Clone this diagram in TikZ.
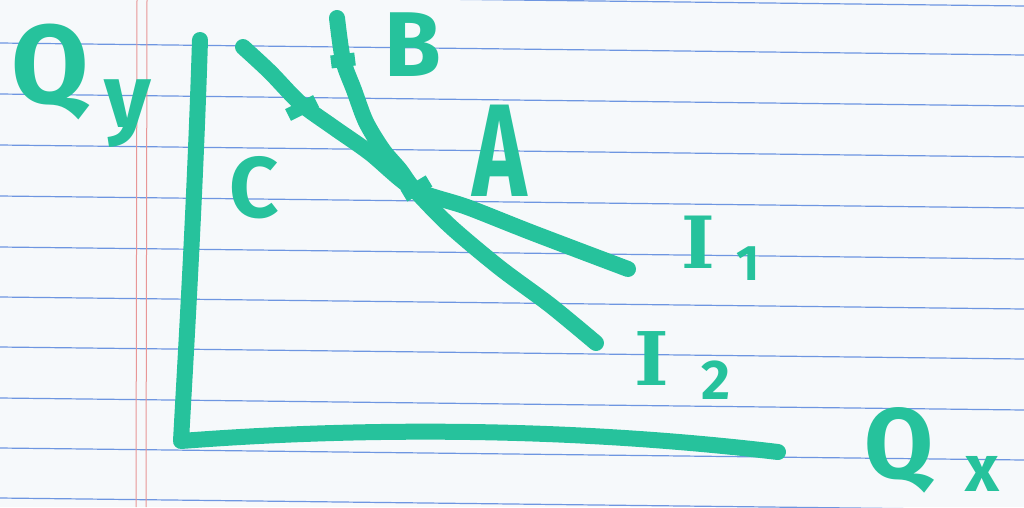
\documentclass[tikz,border=0pt]{standalone}
\usepackage{fontspec}
\setmainfont{Fira Sans}
\newfontfamily\serifb{DejaVu Serif}
\definecolor{mk}{RGB}{38,194,156}
\definecolor{paper}{RGB}{246,249,251}
\definecolor{rule}{RGB}{110,150,225}
\definecolor{marg}{RGB}{232,150,150}
\newcommand{\fs}[1]{\fontsize{#1}{#1}\selectfont}
\begin{document}
\begin{tikzpicture}[x=1pt,y=-1pt,
  marker/.style={draw=mk, line width=16pt, line cap=round, line join=round},
  tickmark/.style={draw=mk, line width=13pt, line cap=butt},
  lbl/.style={text=mk, font=\bfseries, inner sep=0pt},
  ilbl/.style={text=mk, inner sep=0pt},
  ruled/.style={draw=rule, line width=1.2pt},
  margin/.style={draw=marg, line width=1pt}]
\fill[paper] (0,0) rectangle (1024,507);
\useasboundingbox (0,0) rectangle (1024,507);
% ruled lines
\foreach \y in {-6,43,94,145,196,247,297,347,398,448,498}
  \draw[ruled] (0,\y) -- (1024,\y+12);
% margin lines
\draw[margin] (137,0) -- (136,507);
\draw[margin] (147,0) -- (146,507);
% axes
\coordinate (ytop) at (200,40);
\coordinate (origin) at (181,441);
\coordinate (xend) at (778,452);
\draw[marker] (ytop) .. controls (195,200) and (186,350) .. (origin)
  .. controls (350,428) and (560,426) .. (xend);
% indifference curves
\coordinate (cross) at (414,189);
\draw[marker] plot[smooth, tension=0.5] coordinates {(243,47) (270,72) (300,103) (333,127) (370,153) (cross) (467,207) (533,233) (628,269)};
\draw[marker] plot[smooth, tension=0.5] coordinates {(337,18) (343,60) (354,90) (366,122) (383,150) (400,170) (cross) (450,226) (500,268) (550,305) (596,343)};
% tick marks
\draw[tickmark] (288,115) -- (316,101);
\draw[tickmark] (331,62) -- (355,59);
\draw[tickmark] (404,196) -- (429,181);
% labels
\node[lbl] (qy) at (50,72) {\fs{112}Q};
\node[lbl] (ysub) at (128,114) {\fs{90}y};
\node[lbl] (c) at (254,188) {\fs{86}C};
\node[lbl] (b) at (413,45) {\fs{92}B};
\node[lbl] (a) at (500,151) {\fs{132}\scalebox{0.7}[1]{A}};
\node[ilbl] (i1) at (698,242) {\fontspec{DejaVu Serif}\bfseries\fs{72}I};
\node[lbl] (one) at (748,264) {\fs{50}1};
\node[ilbl] (i2) at (652,359) {\fontspec{DejaVu Serif}\bfseries\fs{74}I};
\node[lbl] (two) at (716,380) {\fs{56}2};
\node[lbl] (qx) at (899,450) {\fs{100}Q};
\node[lbl] (xsub) at (982,474) {\fs{66}x};
\end{tikzpicture}
\end{document}
